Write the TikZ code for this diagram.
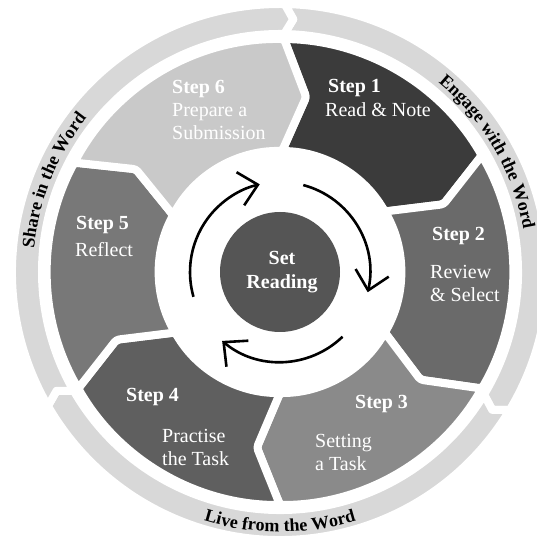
\documentclass[tikz,border=0pt]{standalone}
\usepackage{fontspec}
\setmainfont{Liberation Serif}
\usetikzlibrary{arrows.meta,decorations.text}
\definecolor{cA}{HTML}{3B3B3B}
\definecolor{cB}{HTML}{6A6A6A}
\definecolor{cC}{HTML}{8A8A8A}
\definecolor{cD}{HTML}{5F5F5F}
\definecolor{cE}{HTML}{787878}
\definecolor{cF}{HTML}{C9C9C9}
\definecolor{cHub}{HTML}{555555}
\definecolor{cRing}{HTML}{D8D8D8}
\begin{document}
\begin{tikzpicture}[x=1pt,y=1pt,
  seg/.style={draw=white, line width=8pt, line join=round, rounded corners=3pt},
  ringseg/.style={fill=cRing, draw=white, line width=8pt, line join=round},
  ttl/.style={text=white, inner sep=0pt, anchor=base west, font=\fontsize{20}{24}\selectfont\bfseries},
  dsc/.style={text=white, inner sep=0pt, anchor=base west, font=\fontsize{20}{24}\selectfont},
  hubtxt/.style={text=white, inner sep=0pt, anchor=base, font=\fontsize{20}{24}\selectfont\bfseries},
  cyc/.style={line width=2.6pt, -{Straight Barb[length=18pt, width=34pt, line width=2.6pt]}},
  ringtext/.style={decorate, decoration={text along path, text align=center, text={|\fontsize{18}{18}\selectfont\bfseries|#1}}}
]
\useasboundingbox[fill=white] (-280,-265) rectangle (257,272);
% outer ring
\foreach \a/\b in {89/-31, -31/-150, 210/89}{
  \filldraw[ringseg] (\a:268) arc[start angle=\a, end angle=\b, radius=268pt]
    -- ({\b-2}:253) -- (\b:238) arc[start angle=\b, end angle=\a, radius=238pt]
    -- ({\a-2}:253) -- cycle;
}
\path[ringtext={Engage with the Word}] (74:247) arc[start angle=74, end angle=-14, radius=247pt];
\path[ringtext={Share in the Word}] (202:247) arc[start angle=202, end angle=114, radius=247pt];
\path[ringtext={Live from the Word}] (-134:260) arc[start angle=-134, end angle=-46, radius=260pt];
% segments
\foreach \a/\b/\c in {89/30/cA, 30/-30/cB, -30/-90/cC, -90/-150/cD, 210/152/cE, 152/89/cF}{
  \filldraw[seg, fill=\c] (\a:233) arc[start angle=\a, end angle=\b, radius=233pt]
    -- ({\b-7.5}:177) -- (\b:121) arc[start angle=\b, end angle=\a, radius=121pt]
    -- ({\a-7.5}:177) -- cycle;
}
% hub
\fill[cHub] (0,0) circle[radius=60pt];
\node[hubtxt] (hub1) at (2,7) {Set};
\node[hubtxt] (hub2) at (2,-17) {Reading};
% cycle arrows
\draw[cyc] (196:90) arc[start angle=196, end angle=103, radius=90pt];
\draw[cyc] (75:90) arc[start angle=75, end angle=-13, radius=90pt];
\draw[cyc] (-46:90) arc[start angle=-46, end angle=-130, radius=90pt];
% labels
\node[ttl] (s1t) at (48,179) {Step 1};
\node[dsc] (s1a) at (45,155) {Read \& Note};
\node[ttl] (s2t) at (152,31) {Step 2};
\node[dsc] (s2a) at (150,-7) {Review};
\node[dsc] (s2b) at (150,-30) {\& Select};
\node[ttl] (s3t) at (75,-136) {Step 3};
\node[dsc] (s3a) at (35,-175) {Setting};
\node[dsc] (s3b) at (35,-198) {a Task};
\node[ttl] (s4t) at (-154,-129) {Step 4};
\node[dsc] (s4a) at (-118,-170) {Practise};
\node[dsc] (s4b) at (-118,-193) {the Task};
\node[ttl] (s5t) at (-204,42) {Step 5};
\node[dsc] (s5a) at (-205,15) {Reflect};
\node[ttl] (s6t) at (-108,178) {Step 6};
\node[dsc] (s6a) at (-108,155) {Prepare a};
\node[dsc] (s6b) at (-108,132) {Submission};
\end{tikzpicture}
\end{document}
